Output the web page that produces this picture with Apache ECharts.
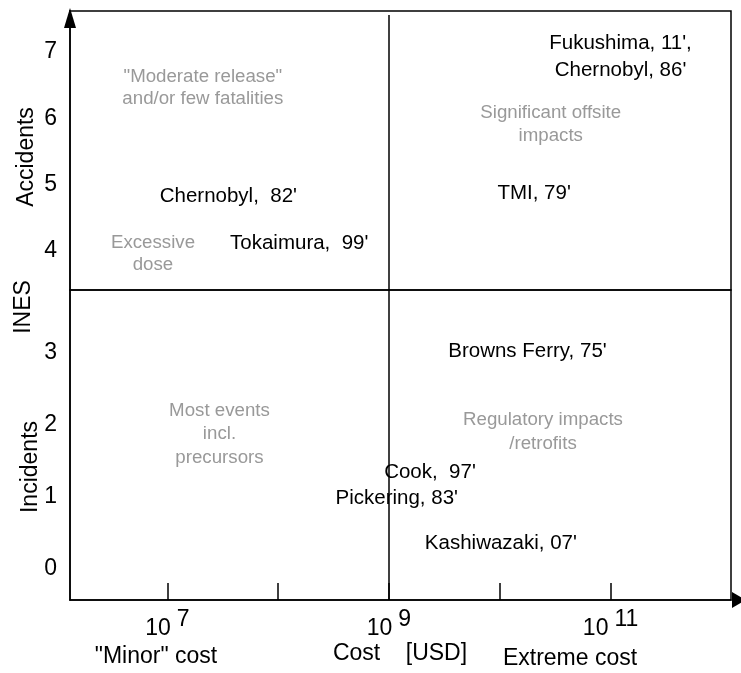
<!DOCTYPE html>
<html><head><meta charset="utf-8">
<script src="https://cdn.jsdelivr.net/npm/echarts@6/dist/echarts.min.js"></script>
<style>html,body{margin:0;padding:0;background:#fff}#c{width:741px;height:673px}</style>
</head><body><div id="c"></div>
<script>
// Cost axis is log10(cost in USD)
const costTickExponents = [7, 8, 9, 10, 11];
const costLabelExponents = [7, 9, 11];
const accidentTicks = [4, 5, 6, 7];
const incidentTicks = [0, 1, 2, 3];
const costDivider = 9;

const accidentEvents = ["Fukushima, 11',\nChernobyl, 86'", "TMI, 79'", "Chernobyl,  82'", "Tokaimura,  99'"];
const accidentCost = [11.09, 10.31, 7.55, 8.19];
const accidentINES = [6.93, 4.87, 4.82, 4.10];

const incidentEvents = ["Browns Ferry, 75'", "Cook,  97'", "Pickering, 83'", "Kashiwazaki, 07'"];
const incidentCost = [10.25, 9.37, 9.07, 10.01];
const incidentINES = [3.02, 1.34, 0.98, 0.35];

const accidentZones = ["\"Moderate release\"\nand/or few fatalities", "Excessive\ndose", "Significant offsite\nimpacts"];
const accidentZoneCost = [7.32, 6.87, 10.46];
const accidentZoneINES = [6.46, 3.945, 5.91];

const incidentZones = ["Most events\nincl.\nprecursors", "Regulatory impacts\n/retrofits"];
const incidentZoneCost = [7.47, 10.39];
const incidentZoneINES = [1.87, 1.90];

const FONT = '"Liberation Sans", Arial, sans-serif';
const COST_MIN = 6.121, COST_MAX = 12.087;
const ACC_MIN = 3.401, ACC_MAX = 7.622;
const INC_MIN = -0.4375, INC_MAX = 3.868;

function pts(names, xs, ys) {
  return names.map((n, i) => ({ name: n, value: [xs[i], ys[i]] }));
}
function textSeries(gi, data, color, size, lh) {
  return {
    type: 'scatter', xAxisIndex: gi, yAxisIndex: gi, symbolSize: 0, silent: true,
    itemStyle: { opacity: 1 },
    data: data,
    label: { show: true, position: 'inside', formatter: '{b}', color: color, opacity: 1, fontSize: size,
      fontFamily: FONT, lineHeight: lh, align: 'center', verticalAlign: 'middle' },
    emphasis: { disabled: true }
  };
}
const lineCommon = { color: '#000', width: 1.5 };

const chart = echarts.init(document.getElementById('c'), null, { renderer: 'canvas' });
chart.setOption({
  animation: false,
  backgroundColor: '#fff',
  grid: [
    { left: 70, right: 10, top: 11, height: 279, show: true, borderColor: '#000', borderWidth: 1.5, containLabel: false, outerBoundsMode: 'none' },
    { left: 70, right: 10, top: 290, bottom: 73, show: true, borderColor: '#000', borderWidth: 1.5, containLabel: false, outerBoundsMode: 'none' }
  ],
  xAxis: [
    { gridIndex: 0, type: 'value', min: COST_MIN, max: COST_MAX, show: false, splitLine: { show: false } },
    { gridIndex: 1, type: 'value', min: COST_MIN, max: COST_MAX,
      splitLine: { show: false },
      axisLine: { show: true, onZero: false, lineStyle: lineCommon, symbol: ['none', 'triangle'], symbolSize: [16, 14], symbolOffset: [0, 8] },
      axisTick: { show: true, customValues: costTickExponents, inside: true, length: 17, lineStyle: lineCommon },
      axisLabel: { show: true, customValues: costLabelExponents, margin: 8,
        formatter: v => '{b|10}{s|' + v + '}',
        rich: {
          b: { fontSize: 23, color: '#000', fontFamily: FONT },
          s: { fontSize: 23, color: '#000', fontFamily: FONT, padding: [0, 0, 18, 6] }
        } }
    }
  ],
  yAxis: [
    { gridIndex: 0, type: 'value', min: ACC_MIN, max: ACC_MAX, splitLine: { show: false },
      axisLine: { show: true, onZero: false, lineStyle: lineCommon, symbol: ['none', 'triangle'], symbolSize: [12, 20], symbolOffset: [0, -7] },
      axisTick: { show: false },
      axisLabel: { customValues: accidentTicks, fontSize: 23, color: '#000', fontFamily: FONT, margin: 13 } },
    { gridIndex: 1, type: 'value', min: INC_MIN, max: INC_MAX, splitLine: { show: false },
      axisLine: { show: true, onZero: false, lineStyle: lineCommon },
      axisTick: { show: false },
      axisLabel: { customValues: incidentTicks, fontSize: 23, color: '#000', fontFamily: FONT, margin: 13 } }
  ],
  series: [
    Object.assign(textSeries(0, pts(accidentEvents, accidentCost, accidentINES), '#000', 20.5, 27), {
      markLine: { silent: true, symbol: 'none', label: { show: false }, lineStyle: { color: '#000', width: 1.5, type: 'solid', opacity: 1 },
        data: [[{ coord: [costDivider, ACC_MAX - 0.06] }, { coord: [costDivider, ACC_MIN] }]] }
    }),
    textSeries(0, pts(accidentZones, accidentZoneCost, accidentZoneINES), '#999', 18.7, 22.5),
    Object.assign(textSeries(1, pts(incidentEvents, incidentCost, incidentINES), '#000', 20.5, 27), {
      markLine: { silent: true, symbol: 'none', label: { show: false }, lineStyle: { color: '#000', width: 1.5, type: 'solid', opacity: 1 },
        data: [{ xAxis: costDivider }] }
    }),
    textSeries(1, pts(incidentZones, incidentZoneCost, incidentZoneINES), '#999', 18.7, 23.5)
  ],
  graphic: [
    { type: 'text', x: 24, y: 307, rotation: Math.PI / 2, style: { text: 'INES', font: '23px ' + FONT, fill: '#000', textAlign: 'center', textVerticalAlign: 'middle', verticalAlign: 'middle' } },
    { type: 'text', x: 27, y: 157, rotation: Math.PI / 2, style: { text: 'Accidents', font: '23px ' + FONT, fill: '#000', textAlign: 'center', textVerticalAlign: 'middle', verticalAlign: 'middle' } },
    { type: 'text', x: 31, y: 467, rotation: Math.PI / 2, style: { text: 'Incidents', font: '23px ' + FONT, fill: '#000', textAlign: 'center', textVerticalAlign: 'middle', verticalAlign: 'middle' } },
    { type: 'text', x: 156, y: 657, style: { text: '"Minor" cost', font: '23px ' + FONT, fill: '#000', textAlign: 'center', textVerticalAlign: 'middle', verticalAlign: 'middle' } },
    { type: 'text', x: 400, y: 654, style: { text: 'Cost    [USD]', font: '23px ' + FONT, fill: '#000', textAlign: 'center', textVerticalAlign: 'middle', verticalAlign: 'middle' } },
    { type: 'text', x: 570, y: 659, style: { text: 'Extreme cost', font: '23px ' + FONT, fill: '#000', textAlign: 'center', textVerticalAlign: 'middle', verticalAlign: 'middle' } }
  ]
});
</script></body></html>
